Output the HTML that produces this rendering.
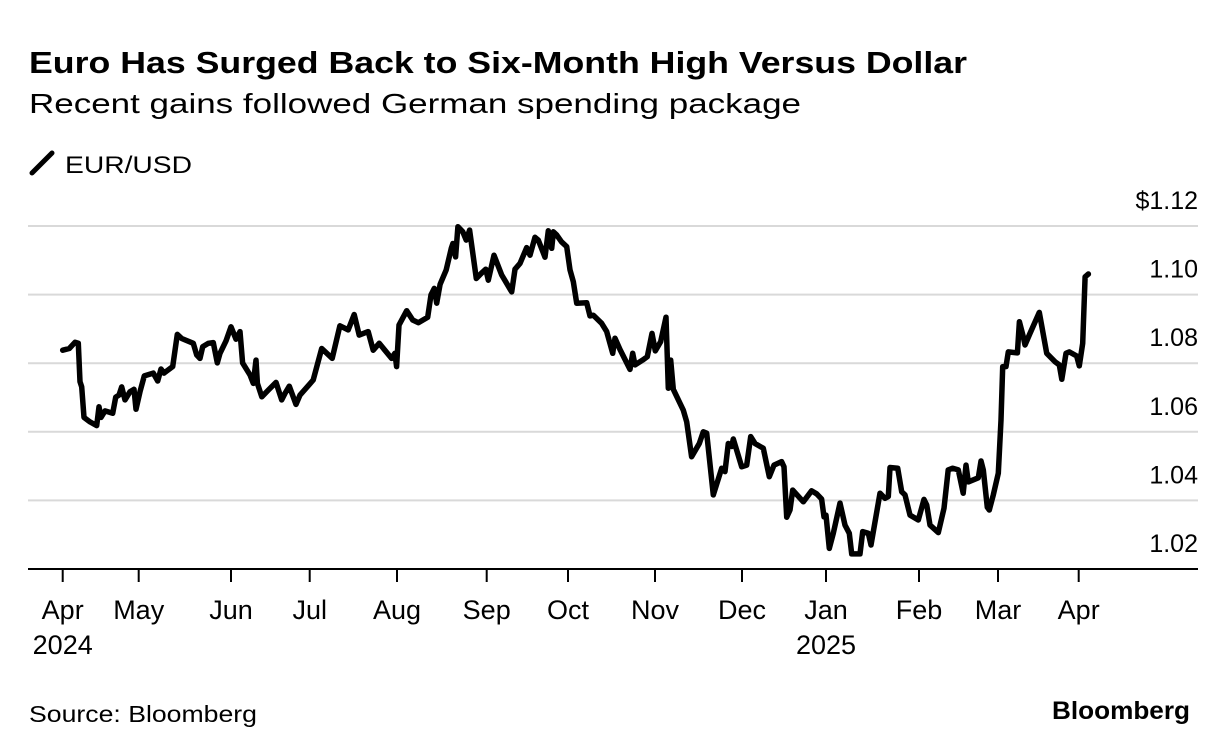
<!DOCTYPE html>
<html><head><meta charset="utf-8"><style>
html,body{margin:0;padding:0;background:#fff;}
svg{display:block;font-family:"Liberation Sans",Arial,sans-serif;}
</style></head><body>
<svg id="chart" width="1230" height="754" viewBox="0 0 1230 754">
<text x="29" y="73" font-size="31" font-weight="bold" fill="#000" textLength="938" lengthAdjust="spacingAndGlyphs">Euro Has Surged Back to Six-Month High Versus Dollar</text>
<text x="29" y="113" font-size="28" fill="#000" textLength="772" lengthAdjust="spacingAndGlyphs">Recent gains followed German spending package</text>
<g>
<line x1="32" y1="173" x2="52" y2="153" stroke="#000" stroke-width="5" stroke-linecap="round"/>
<text x="65" y="173" font-size="24" fill="#000" textLength="127" lengthAdjust="spacingAndGlyphs">EUR/USD</text>
</g>
<g id="grid"></g>
<g id="yticks"></g>
<g id="xaxis"></g>
<g id="series"></g>
<text x="29" y="722" font-size="23" fill="#000" textLength="228" lengthAdjust="spacingAndGlyphs">Source: Bloomberg</text>
<text x="1190" y="719" font-size="25" font-weight="bold" fill="#000" text-anchor="end" textLength="138" lengthAdjust="spacingAndGlyphs">Bloomberg</text>
</svg>
<script>
const yTickValues = [1.02, 1.04, 1.06, 1.08, 1.10, 1.12];
const yTickLabels = ["1.02", "1.04", "1.06", "1.08", "1.10", "$1.12"];
const monthLabels = ["Apr","May","Jun","Jul","Aug","Sep","Oct","Nov","Dec","Jan","Feb","Mar","Apr"];
const yearLabels = [["2024", 0], ["2025", 9]];
// time in fractional months since Apr 1 2024
const times = [0.0,0.087,0.162,0.205,0.228,0.25,0.28,0.359,0.447,0.478,0.504,0.557,0.658,0.697,0.741,0.776,0.82,0.886,0.938,0.964,
1.014,1.061,1.158,1.206,1.242,1.274,1.368,1.418,1.466,1.592,1.628,1.664,1.693,1.754,1.808,1.852,1.881,1.946,
2.0,2.064,2.114,2.148,2.241,2.283,2.318,2.335,2.391,2.475,2.572,2.644,2.686,2.741,2.826,2.877,
3.0,3.04,3.137,3.258,3.346,3.441,3.51,3.567,3.67,3.727,3.796,3.938,3.976,3.995,
4.022,4.108,4.175,4.237,4.342,4.379,4.416,4.443,4.48,4.549,4.605,4.623,4.653,4.679,4.734,4.772,4.809,4.884,4.94,4.99,
5.02,5.09,5.185,5.308,5.348,5.41,5.492,5.533,5.594,5.635,5.717,5.758,5.80,5.82,5.86,5.92,5.984,
6.023,6.061,6.10,6.215,6.253,6.291,6.387,6.445,6.514,6.54,6.598,6.713,6.744,6.77,6.858,6.911,6.966,
7.004,7.065,7.126,7.153,7.18,7.21,7.325,7.364,7.421,7.509,7.555,7.594,7.67,7.767,7.805,7.843,7.882,7.90,7.997,
8.056,8.104,8.155,8.254,8.325,8.381,8.472,8.5,8.532,8.571,8.603,8.73,8.829,8.889,8.948,8.976,
9.0,9.036,9.079,9.151,9.204,9.25,9.276,9.366,9.395,9.455,9.484,9.581,9.634,9.67,9.688,9.771,9.814,9.849,9.903,9.993,
10.063,10.097,10.139,10.244,10.316,10.37,10.426,10.497,10.56,10.595,10.624,10.75,10.785,10.814,10.865,10.89,10.94,
11.004,11.037,11.058,11.099,11.128,11.24,11.265,11.314,11.335,11.397,11.512,11.604,11.707,11.76,11.79,11.843,11.884,11.975,
12.008,12.05,12.079,12.12];
const eurusd = [1.0838,1.0843,1.0861,1.0858,1.0746,1.0731,1.0642,1.0629,1.0618,1.0673,1.0642,1.0661,1.0654,1.0701,1.0707,1.0731,1.0693,1.0717,1.0724,1.0666,
1.0717,1.0763,1.0771,1.0748,1.0783,1.0771,1.0790,1.0884,1.0872,1.0858,1.0824,1.0814,1.0848,1.0858,1.0860,1.0801,1.0829,1.0865,
1.0906,1.0870,1.0892,1.0801,1.0766,1.0741,1.0809,1.0741,1.0702,1.0722,1.0744,1.0693,1.0712,1.0733,1.0680,1.0707,
1.0739,1.0751,1.0843,1.0814,1.0909,1.0897,1.0942,1.0882,1.0892,1.0838,1.0858,1.0814,1.0829,1.0790,
1.0911,1.0953,1.0926,1.0918,1.0934,1.0999,1.1018,1.0975,1.1030,1.1072,1.1135,1.1149,1.1110,1.1198,1.1183,1.1159,1.1188,1.1047,1.1062,1.1074,
1.1042,1.1115,1.1057,1.1008,1.1074,1.1091,1.1137,1.1115,1.1167,1.1159,1.1109,1.1186,1.1135,1.1183,1.1174,1.1154,1.1140,
1.1072,1.1038,1.0975,1.0976,1.0938,1.0940,1.0916,1.0892,1.0829,1.0873,1.0840,1.0782,1.0829,1.0795,1.0809,1.0819,1.0887,
1.0836,1.0863,1.0934,1.0727,1.0809,1.0724,1.0663,1.0629,1.0527,1.0566,1.0600,1.0596,1.0416,1.0494,1.0484,1.0566,1.0557,1.0579,1.0498,
1.0503,1.0586,1.0566,1.0552,1.0469,1.0503,1.0513,1.0498,1.0351,1.0372,1.0430,1.0396,1.0428,1.0419,1.0404,1.0352,
1.0357,1.0260,1.0304,1.0392,1.0328,1.0304,1.0244,1.0244,1.0309,1.0304,1.0270,1.0421,1.0406,1.0411,1.0496,1.0494,1.0425,1.0416,1.0357,1.0343,
1.0403,1.0387,1.0328,1.0306,1.0377,1.0489,1.0494,1.0489,1.0421,1.0503,1.0454,1.0466,1.0515,1.0489,1.0380,1.0372,1.0416,
1.0479,1.0634,1.0790,1.0790,1.0833,1.0830,1.0921,1.0877,1.0853,1.0887,1.0948,1.0829,1.0804,1.0795,1.0753,1.0829,1.0833,1.0821,
1.0792,1.0858,1.1052,1.1060];

const NS = "http://www.w3.org/2000/svg";
const tickX = [62.7,138.7,231,309.7,397,486.7,568,655,742,826,919,998,1078.7];
const plotLeft = 28, plotRight = 1198, yBase = 569, yTop = 226;
function yScale(v){ return yBase - (v - 1.02) / 0.10 * (yBase - yTop); }
function xScale(t){
  let i = Math.floor(t);
  if (i < 0) i = 0;
  if (i >= tickX.length - 1) i = tickX.length - 2;
  const f = t - i;
  return tickX[i] + f * (tickX[i+1] - tickX[i]);
}
function mk(tag, attrs, parent){
  const el = document.createElementNS(NS, tag);
  for (const k in attrs) el.setAttribute(k, attrs[k]);
  parent.appendChild(el);
  return el;
}
const grid = document.getElementById('grid');
const yt = document.getElementById('yticks');
yTickValues.forEach((v, i) => {
  const y = yScale(v);
  if (i > 0) {
    const l = mk('line', {x1: plotLeft, x2: plotRight, y1: y, y2: y, stroke: '#d9d9d9', 'stroke-width': 2}, grid);
    
    
  }
  const t = mk('text', {x: 1198, y: y - 17, 'font-size': 25, 'text-anchor': 'end', fill: '#000'}, yt);
  t.textContent = yTickLabels[i];
  
  
});
const xa = document.getElementById('xaxis');
const base = mk('line', {x1: plotLeft, x2: plotRight, y1: yBase, y2: yBase, stroke: '#000', 'stroke-width': 2}, xa);


monthLabels.forEach((m, i) => {
  const x = xScale(i);
  const tk = mk('line', {x1: x, x2: x, y1: yBase, y2: yBase + 13, stroke: '#000', 'stroke-width': 2}, xa);
  
  
  const t = mk('text', {x: x, y: 619, 'font-size': 27, 'text-anchor': 'middle', fill: '#000'}, xa);
  t.textContent = m;
  
  
});
yearLabels.forEach(([yr, i]) => {
  const t = mk('text', {x: xScale(i), y: 654, 'font-size': 27, 'text-anchor': 'middle', fill: '#000'}, xa);
  t.textContent = yr;
  
  
});
const d = times.map((t, i) => (i ? 'L' : 'M') + xScale(t).toFixed(1) + ',' + yScale(eurusd[i]).toFixed(1)).join(' ');
const path = mk('path', {d: d, fill: 'none', stroke: '#000', 'stroke-width': 5.5, 'stroke-linejoin': 'round', 'stroke-linecap': 'round'}, document.getElementById('series'));


</script>
</body></html>
